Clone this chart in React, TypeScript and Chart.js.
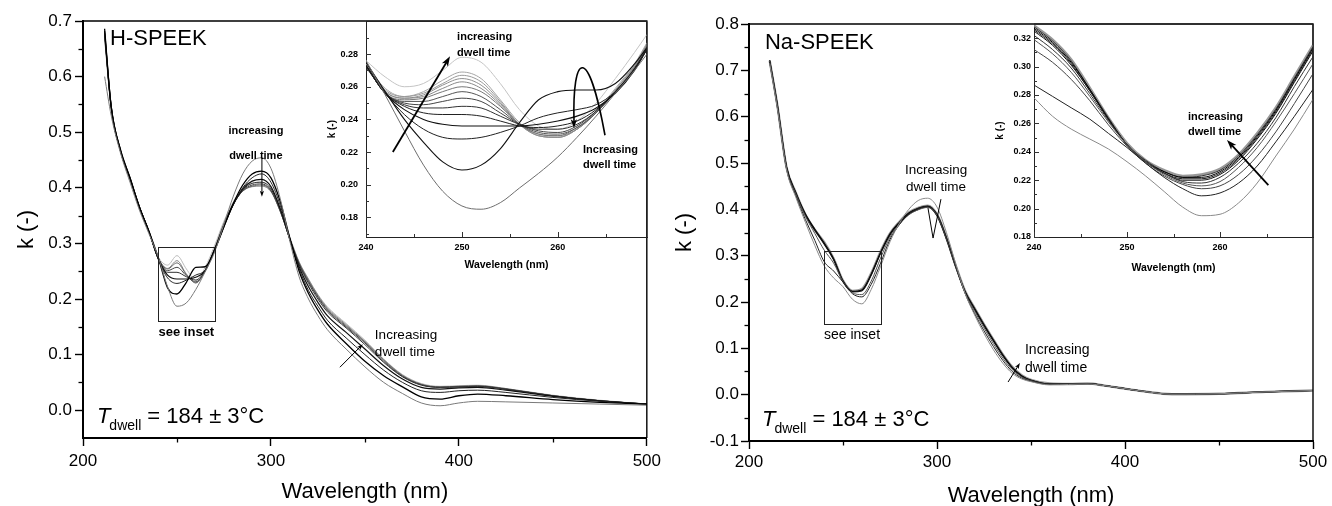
import React, { useEffect, useRef } from 'react';
import { Chart, registerables } from 'chart.js';

Chart.register(...registerables);

const FONT = '"Liberation Sans", Arial, Helvetica, sans-serif';

// ================= DATA =================
// ---- H-SPEEK main plot ----
const hMainWave = [211.5, 215, 220, 225, 230, 235, 240, 245, 250, 255, 260, 265, 270, 275, 280, 285, 290, 295, 300, 305, 310, 315, 320, 325, 330, 340, 350, 360, 370, 380, 390, 400, 410, 425, 450, 475, 500];
const hMainA = [0.600, 0.530, 0.462, 0.410, 0.360, 0.318, 0.276, 0.222, 0.187, 0.193, 0.217, 0.249, 0.284, 0.335, 0.385, 0.425, 0.448, 0.454, 0.435, 0.380, 0.305, 0.240, 0.200, 0.170, 0.145, 0.110, 0.078, 0.050, 0.030, 0.013, 0.008, 0.013, 0.016, 0.015, 0.013, 0.011, 0.009];
const hMainB = [0.686, 0.545, 0.468, 0.418, 0.365, 0.323, 0.275, 0.220, 0.209, 0.230, 0.257, 0.258, 0.288, 0.330, 0.372, 0.405, 0.425, 0.430, 0.418, 0.375, 0.310, 0.250, 0.210, 0.180, 0.155, 0.120, 0.088, 0.062, 0.042, 0.024, 0.020, 0.026, 0.029, 0.026, 0.019, 0.014, 0.011];
const hMainC = [0.680, 0.548, 0.466, 0.417, 0.366, 0.322, 0.272, 0.238, 0.228, 0.234, 0.243, 0.252, 0.287, 0.330, 0.370, 0.400, 0.418, 0.425, 0.410, 0.368, 0.310, 0.255, 0.215, 0.187, 0.162, 0.130, 0.100, 0.072, 0.050, 0.035, 0.032, 0.035, 0.036, 0.032, 0.023, 0.016, 0.011];
const hMainD = [0.682, 0.547, 0.467, 0.418, 0.366, 0.322, 0.273, 0.243, 0.236, 0.236, 0.239, 0.251, 0.288, 0.332, 0.370, 0.398, 0.412, 0.415, 0.402, 0.362, 0.308, 0.258, 0.222, 0.194, 0.170, 0.140, 0.110, 0.080, 0.056, 0.041, 0.038, 0.040, 0.041, 0.036, 0.025, 0.017, 0.011];
const hMainF = [0.678, 0.546, 0.466, 0.417, 0.366, 0.322, 0.273, 0.248, 0.248, 0.240, 0.234, 0.251, 0.288, 0.333, 0.370, 0.396, 0.408, 0.410, 0.398, 0.360, 0.308, 0.262, 0.228, 0.200, 0.177, 0.148, 0.118, 0.086, 0.060, 0.045, 0.041, 0.042, 0.043, 0.038, 0.026, 0.017, 0.011];
const hMainH = [0.676, 0.545, 0.466, 0.416, 0.366, 0.322, 0.273, 0.251, 0.257, 0.242, 0.231, 0.250, 0.289, 0.334, 0.371, 0.395, 0.405, 0.407, 0.395, 0.358, 0.308, 0.263, 0.231, 0.203, 0.180, 0.150, 0.121, 0.088, 0.061, 0.046, 0.041, 0.042, 0.043, 0.038, 0.026, 0.017, 0.011];
const hMainK = [0.672, 0.544, 0.465, 0.416, 0.365, 0.322, 0.274, 0.254, 0.265, 0.244, 0.229, 0.251, 0.290, 0.335, 0.371, 0.394, 0.403, 0.405, 0.394, 0.357, 0.309, 0.265, 0.233, 0.205, 0.182, 0.152, 0.123, 0.090, 0.062, 0.046, 0.042, 0.043, 0.044, 0.038, 0.026, 0.017, 0.011];
const hMainM = [0.668, 0.543, 0.465, 0.416, 0.365, 0.321, 0.274, 0.255, 0.269, 0.245, 0.229, 0.252, 0.291, 0.336, 0.372, 0.394, 0.402, 0.403, 0.393, 0.357, 0.310, 0.266, 0.235, 0.207, 0.184, 0.154, 0.124, 0.091, 0.063, 0.047, 0.042, 0.043, 0.044, 0.039, 0.026, 0.017, 0.011];
const hMainTop = [0.674, 0.543, 0.465, 0.415, 0.364, 0.321, 0.276, 0.261, 0.278, 0.254, 0.234, 0.257, 0.296, 0.340, 0.375, 0.398, 0.408, 0.410, 0.398, 0.360, 0.312, 0.267, 0.236, 0.208, 0.186, 0.156, 0.126, 0.092, 0.064, 0.048, 0.043, 0.044, 0.045, 0.039, 0.027, 0.018, 0.011];

// ---- H-SPEEK inset ----
const hInsetWave = [240, 242, 244, 246, 248, 250, 252, 254, 256, 258, 260, 262, 264, 266, 268, 269.3];
const hInA = [0.276, 0.255, 0.233, 0.212, 0.196, 0.187, 0.185, 0.189, 0.198, 0.207, 0.217, 0.229, 0.242, 0.256, 0.270, 0.280];
const hInB = [0.275, 0.257, 0.240, 0.226, 0.214, 0.209, 0.212, 0.222, 0.238, 0.252, 0.257, 0.258, 0.258, 0.262, 0.274, 0.284];
const hInC = [0.272, 0.256, 0.243, 0.234, 0.229, 0.228, 0.229, 0.232, 0.236, 0.241, 0.244, 0.246, 0.249, 0.257, 0.271, 0.283];
const hInD = [0.273, 0.256, 0.246, 0.240, 0.237, 0.236, 0.236, 0.236, 0.236, 0.237, 0.239, 0.242, 0.247, 0.256, 0.270, 0.283];
const hInE = [0.273, 0.256, 0.248, 0.244, 0.243, 0.243, 0.242, 0.239, 0.236, 0.235, 0.236, 0.239, 0.246, 0.257, 0.271, 0.283];
const hInF = [0.273, 0.256, 0.249, 0.247, 0.247, 0.248, 0.247, 0.242, 0.237, 0.234, 0.234, 0.237, 0.245, 0.257, 0.271, 0.283];
const hInG = [0.273, 0.256, 0.250, 0.249, 0.251, 0.253, 0.251, 0.244, 0.237, 0.233, 0.232, 0.236, 0.245, 0.257, 0.271, 0.284];
const hInH = [0.273, 0.256, 0.251, 0.251, 0.254, 0.257, 0.254, 0.246, 0.237, 0.232, 0.231, 0.235, 0.244, 0.257, 0.271, 0.284];
const hInI = [0.273, 0.256, 0.252, 0.253, 0.257, 0.260, 0.257, 0.248, 0.237, 0.231, 0.230, 0.235, 0.244, 0.257, 0.272, 0.285];
const hInJ = [0.273, 0.257, 0.253, 0.254, 0.259, 0.263, 0.259, 0.249, 0.237, 0.231, 0.230, 0.234, 0.244, 0.257, 0.272, 0.285];
const hInK = [0.274, 0.257, 0.253, 0.255, 0.261, 0.265, 0.261, 0.250, 0.237, 0.230, 0.229, 0.234, 0.244, 0.258, 0.273, 0.286];
const hInL = [0.274, 0.258, 0.254, 0.256, 0.262, 0.267, 0.263, 0.251, 0.237, 0.230, 0.229, 0.234, 0.245, 0.258, 0.273, 0.286];
const hInM = [0.274, 0.259, 0.254, 0.257, 0.264, 0.269, 0.265, 0.252, 0.238, 0.230, 0.229, 0.234, 0.245, 0.259, 0.274, 0.287];
const hInTop = [0.276, 0.266, 0.260, 0.262, 0.270, 0.278, 0.275, 0.262, 0.246, 0.236, 0.234, 0.239, 0.250, 0.265, 0.281, 0.292];

// ---- Na-SPEEK main plot ----
const naMainWave = [211, 215, 220, 225, 230, 235, 240, 245, 250, 255, 260, 265, 270, 275, 280, 285, 290, 295, 300, 305, 310, 315, 320, 325, 330, 335, 340, 345, 350, 360, 370, 380, 390, 400, 410, 425, 450, 475, 500];
const naMainG1 = [0.715, 0.620, 0.485, 0.425, 0.372, 0.322, 0.278, 0.252, 0.233, 0.206, 0.196, 0.227, 0.277, 0.330, 0.370, 0.400, 0.419, 0.424, 0.405, 0.350, 0.282, 0.218, 0.172, 0.132, 0.097, 0.068, 0.046, 0.034, 0.028, 0.021, 0.022, 0.023, 0.019, 0.013, 0.007, 0.001, 0.002, 0.006, 0.009];
const naMainG2 = [0.718, 0.622, 0.487, 0.428, 0.378, 0.333, 0.287, 0.267, 0.243, 0.218, 0.211, 0.238, 0.284, 0.335, 0.367, 0.390, 0.402, 0.406, 0.390, 0.340, 0.278, 0.218, 0.175, 0.138, 0.104, 0.074, 0.050, 0.036, 0.029, 0.022, 0.023, 0.024, 0.019, 0.013, 0.007, 0.001, 0.002, 0.006, 0.009];
const naMainG3 = [0.720, 0.625, 0.488, 0.432, 0.385, 0.348, 0.312, 0.284, 0.244, 0.220, 0.216, 0.245, 0.295, 0.340, 0.368, 0.388, 0.399, 0.404, 0.387, 0.337, 0.276, 0.219, 0.180, 0.144, 0.110, 0.079, 0.054, 0.038, 0.030, 0.022, 0.023, 0.024, 0.019, 0.013, 0.007, 0.001, 0.002, 0.006, 0.009];
const naMainB1 = [0.720, 0.626, 0.490, 0.434, 0.388, 0.355, 0.325, 0.292, 0.245, 0.222, 0.224, 0.258, 0.305, 0.345, 0.370, 0.390, 0.400, 0.405, 0.386, 0.336, 0.275, 0.221, 0.184, 0.149, 0.116, 0.084, 0.058, 0.040, 0.031, 0.023, 0.023, 0.024, 0.019, 0.013, 0.007, 0.001, 0.002, 0.006, 0.009];
const naMainB3 = [0.722, 0.628, 0.491, 0.435, 0.390, 0.357, 0.327, 0.293, 0.245, 0.223, 0.226, 0.260, 0.307, 0.347, 0.372, 0.392, 0.402, 0.407, 0.388, 0.338, 0.277, 0.222, 0.186, 0.151, 0.118, 0.086, 0.059, 0.041, 0.031, 0.023, 0.023, 0.024, 0.019, 0.013, 0.007, 0.001, 0.002, 0.006, 0.009];
const naMainB5 = [0.721, 0.627, 0.490, 0.435, 0.389, 0.356, 0.329, 0.294, 0.246, 0.224, 0.228, 0.262, 0.309, 0.348, 0.373, 0.393, 0.403, 0.408, 0.389, 0.339, 0.278, 0.223, 0.187, 0.152, 0.119, 0.087, 0.060, 0.042, 0.032, 0.024, 0.023, 0.024, 0.019, 0.013, 0.007, 0.001, 0.002, 0.006, 0.009];

// ---- Na-SPEEK inset ----
const naInsetWave = [240, 242, 244, 246, 248, 250, 252, 254, 256, 258, 260, 262, 264, 266, 268, 270];
const naInG1 = [0.278, 0.265, 0.256, 0.249, 0.242, 0.233, 0.223, 0.212, 0.201, 0.195, 0.196, 0.204, 0.218, 0.237, 0.256, 0.277];
const naInG2 = [0.287, 0.279, 0.271, 0.263, 0.253, 0.243, 0.232, 0.222, 0.214, 0.209, 0.211, 0.218, 0.230, 0.247, 0.265, 0.284];
const naInG3 = [0.312, 0.303, 0.291, 0.276, 0.259, 0.244, 0.232, 0.223, 0.217, 0.214, 0.216, 0.224, 0.237, 0.254, 0.274, 0.295];
const naInG4 = [0.319, 0.309, 0.296, 0.279, 0.261, 0.245, 0.233, 0.224, 0.218, 0.216, 0.219, 0.229, 0.243, 0.261, 0.281, 0.302];
const naInG5 = [0.322, 0.312, 0.299, 0.281, 0.262, 0.245, 0.233, 0.225, 0.219, 0.218, 0.222, 0.232, 0.246, 0.264, 0.286, 0.307];
const naInB1 = [0.325, 0.315, 0.301, 0.283, 0.263, 0.245, 0.233, 0.225, 0.220, 0.220, 0.224, 0.234, 0.249, 0.267, 0.289, 0.311];
const naInB2 = [0.326, 0.316, 0.302, 0.283, 0.263, 0.245, 0.233, 0.225, 0.221, 0.221, 0.225, 0.235, 0.250, 0.268, 0.290, 0.312];
const naInB3 = [0.327, 0.317, 0.303, 0.284, 0.263, 0.245, 0.233, 0.226, 0.222, 0.222, 0.226, 0.236, 0.251, 0.269, 0.291, 0.313];
const naInB4 = [0.328, 0.318, 0.304, 0.284, 0.264, 0.245, 0.234, 0.226, 0.222, 0.223, 0.227, 0.237, 0.252, 0.270, 0.292, 0.314];
const naInB5 = [0.329, 0.319, 0.305, 0.285, 0.264, 0.246, 0.234, 0.227, 0.223, 0.224, 0.228, 0.238, 0.253, 0.271, 0.293, 0.315];

// ---- tick values ----
const mainXTicks = [200, 300, 400, 500];
const mainXMinor = [250, 350, 450];
const hMainYTicks = [0, 0.1, 0.2, 0.3, 0.4, 0.5, 0.6, 0.7];
const hMainYMinor = [0.05, 0.15, 0.25, 0.35, 0.45, 0.55, 0.65];
const naMainYTicks = [-0.1, 0, 0.1, 0.2, 0.3, 0.4, 0.5, 0.6, 0.7, 0.8];
const naMainYMinor = [-0.05, 0.05, 0.15, 0.25, 0.35, 0.45, 0.55, 0.65, 0.75];
const insetXTicks = [240, 250, 260];
const insetXMinor = [245, 255, 265];
const hInsetYTicks = [0.18, 0.2, 0.22, 0.24, 0.26, 0.28];
const hInsetYMinor = [0.17, 0.19, 0.21, 0.23, 0.25, 0.27, 0.29];
const naInsetYTicks = [0.18, 0.2, 0.22, 0.24, 0.26, 0.28, 0.3, 0.32];
const naInsetYMinor = [0.19, 0.21, 0.23, 0.25, 0.27, 0.29, 0.31];

// ================= STYLES / NOTES =================
type Style = { color: string; width: number };
const hMainSeries = [hMainA, hMainB, hMainC, hMainD, hMainF, hMainH, hMainK, hMainM, hMainTop];
const hMainStyles: Style[] = [
  { color: '#7a7a7a', width: 1 }, { color: '#000', width: 1.3 }, { color: '#222', width: 1 },
  { color: '#111', width: 1.2 }, { color: '#333', width: 1 }, { color: '#444', width: 1 },
  { color: '#666', width: 1 }, { color: '#888', width: 1 }, { color: '#bbb', width: 1 },
];
const hInsetSeries = [hInA, hInB, hInC, hInD, hInE, hInF, hInG, hInH, hInI, hInJ, hInK, hInL, hInM, hInTop];
const hInsetStyles: Style[] = [
  { color: '#6e6e6e', width: 1 }, { color: '#111', width: 1.1 }, { color: '#222', width: 1 },
  { color: '#111', width: 1.1 }, { color: '#222', width: 1 }, { color: '#333', width: 1 },
  { color: '#444', width: 1 }, { color: '#555', width: 1 }, { color: '#777', width: 1 },
  { color: '#888', width: 1 }, { color: '#8e8e8e', width: 1 }, { color: '#999', width: 1 },
  { color: '#a5a5a5', width: 1 }, { color: '#c4c4c4', width: 1 },
];
const naMainSeries = [naMainG1, naMainG2, naMainG3, naMainB1, naMainB3, naMainB5];
const naMainStyles: Style[] = [
  { color: '#8a8a8a', width: 1 }, { color: '#222', width: 1 }, { color: '#555', width: 1 },
  { color: '#111', width: 1.2 }, { color: '#000', width: 1.2 }, { color: '#999', width: 2.4 },
];
const naInsetSeries = [naInG1, naInG2, naInG3, naInG4, naInG5, naInB1, naInB2, naInB3, naInB4, naInB5];
const naInsetStyles: Style[] = [
  { color: '#8a8a8a', width: 1 }, { color: '#222', width: 1 }, { color: '#444', width: 1 },
  { color: '#555', width: 1 }, { color: '#333', width: 1 }, { color: '#111', width: 1 },
  { color: '#222', width: 1 }, { color: '#000', width: 1 }, { color: '#333', width: 1 },
  { color: '#999', width: 2.6 },
];

const hMainNotes: any[] = [
  { kind: 'text', x: 214.4, y: 0.668, lines: ['H-SPEEK'], size: 22, align: 'left' },
  { kind: 'text', x: 292.0, y: 0.502, lines: ['increasing', 'dwell time'], size: 11, weight: 'bold', align: 'center', gap: 25 },
  { kind: 'arrow', pts: [[295.2, 0.452], [295.2, 0.384]], width: 1, head: 6 },
  { kind: 'rect', x0: 240, x1: 270, y0: 0.16, y1: 0.293 },
  { kind: 'text', x: 255, y: 0.139, lines: ['see inset'], size: 13, weight: 'bold', align: 'center' },
  { kind: 'tdwell', x: 207.4, y: -0.012 },
  { kind: 'text', x: 355.3, y: 0.135, lines: ['Increasing', 'dwell time'], size: 13.5, align: 'left', gap: 17 },
  { kind: 'arrow', pts: [[336.7, 0.0773], [348.9, 0.1187]], width: 1, head: 6 },
];
const hInsetNotes: any[] = [
  { kind: 'text', x: 249.5, y: 0.2903, lines: ['increasing', 'dwell time'], size: 11, weight: 'bold', align: 'left', gap: 16 },
  { kind: 'arrow', pts: [[242.8, 0.22], [248.76, 0.2786]], width: 1.8, head: 10 },
  { kind: 'curve', pts: [[264.92, 0.2303], [263.15, 0.2872], [261.48, 0.2811], [261.69, 0.2346]], width: 1.6, head: 9 },
  { kind: 'text', x: 262.63, y: 0.2212, lines: ['Increasing', 'dwell time'], size: 11, weight: 'bold', align: 'left', gap: 15 },
];
const naMainNotes: any[] = [
  { kind: 'text', x: 208.5, y: 0.759, lines: ['Na-SPEEK'], size: 22, align: 'left' },
  { kind: 'text', x: 299.5, y: 0.485, lines: ['Increasing', 'dwell time'], size: 13.5, align: 'center', gap: 17 },
  { kind: 'poly', pts: [[295.2, 0.403], [297.9, 0.338], [302.1, 0.422]], width: 1 },
  { kind: 'rect', x0: 240, x1: 270, y0: 0.153, y1: 0.31 },
  { kind: 'text', x: 254.8, y: 0.129, lines: ['see inset'], size: 14, align: 'center' },
  { kind: 'tdwell', x: 206.9, y: -0.0547 },
  { kind: 'text', x: 346.8, y: 0.0964, lines: ['Increasing', 'dwell time'], size: 14, align: 'left', gap: 18 },
  { kind: 'arrow', pts: [[337.8, 0.0273], [344.1, 0.0683]], width: 1, head: 6 },
];
const naInsetNotes: any[] = [
  { kind: 'text', x: 256.56, y: 0.2645, lines: ['increasing', 'dwell time'], size: 11, weight: 'bold', align: 'left', gap: 15 },
  { kind: 'arrow', pts: [[265.2, 0.2166], [260.75, 0.2483]], width: 1.8, head: 10 },
];

const panels: any[] = [
  {
    left: 0, top: 0, w: 666, h: 506, inset: false,
    padding: { left: 0, top: 21, right: 19, bottom: 0 }, yWidth: 83, xHeight: 68,
    xMin: 200, xMax: 500, yMin: -0.05, yMax: 0.7, yDec: 1,
    xTicks: mainXTicks, xMinor: mainXMinor, yTicks: hMainYTicks, yMinor: hMainYMinor,
    wave: hMainWave, series: hMainSeries, styles: hMainStyles, notes: hMainNotes,
    tickSize: 17, tickWeight: 'normal', xTickPad: 5, yTickPad: 3,
    xTitleSize: 22, yTitleSize: 22, titleWeight: 'normal', xTitlePad: 1, yTitlePad: 14,
  },
  {
    left: 666, top: 0, w: 666, h: 510, inset: false,
    padding: { left: 0, top: 24, right: 19, bottom: 0 }, yWidth: 83, xHeight: 69,
    xMin: 200, xMax: 500, yMin: -0.1, yMax: 0.8, yDec: 1,
    xTicks: mainXTicks, xMinor: mainXMinor, yTicks: naMainYTicks, yMinor: naMainYMinor,
    wave: naMainWave, series: naMainSeries, styles: naMainStyles, notes: naMainNotes,
    tickSize: 17, tickWeight: 'normal', xTickPad: 3, yTickPad: 2,
    xTitleSize: 22, yTitleSize: 22, titleWeight: 'normal', xTitlePad: 1, yTitlePad: 6,
  },
  {
    left: 310, top: 8, w: 350, h: 270, inset: true,
    padding: { left: 0, top: 13, right: 13, bottom: 0 }, yWidth: 56, xHeight: 41,
    xMin: 240, xMax: 269.3, yMin: 0.168, yMax: 0.3, yDec: 2,
    xTicks: insetXTicks, xMinor: insetXMinor, yTicks: hInsetYTicks, yMinor: hInsetYMinor,
    wave: hInsetWave, series: hInsetSeries, styles: hInsetStyles, notes: hInsetNotes,
    tickSize: 9, tickWeight: 'bold', xTickPad: 5, yTickPad: 8,
    xTitleSize: 10.5, yTitleSize: 10, titleWeight: 'bold', xTitlePad: 6.7, yTitlePad: 16,
  },
  {
    left: 975, top: 8, w: 350, h: 270, inset: true,
    padding: { left: 0, top: 16, right: 12, bottom: 0 }, yWidth: 59, xHeight: 41,
    xMin: 240, xMax: 270, yMin: 0.18, yMax: 0.33, yDec: 2,
    xTicks: insetXTicks, xMinor: insetXMinor, yTicks: naInsetYTicks, yMinor: naInsetYMinor,
    wave: naInsetWave, series: naInsetSeries, styles: naInsetStyles, notes: naInsetNotes,
    tickSize: 9, tickWeight: 'bold', xTickPad: 5, yTickPad: 3,
    xTitleSize: 10.5, yTitleSize: 10, titleWeight: 'bold', xTitlePad: 3.7, yTitlePad: 19,
  },
];

// ================= DRAWING HELPERS =================
function arrowHead(ctx: CanvasRenderingContext2D, fx: number, fy: number, tx: number, ty: number, len: number) {
  const ang = Math.atan2(ty - fy, tx - fx);
  const wid = len * 0.7;
  const bx = tx - len * Math.cos(ang);
  const by = ty - len * Math.sin(ang);
  ctx.beginPath();
  ctx.moveTo(tx, ty);
  ctx.lineTo(bx + (wid / 2) * Math.sin(ang), by - (wid / 2) * Math.cos(ang));
  ctx.lineTo(bx + len * 0.25 * Math.cos(ang), by + len * 0.25 * Math.sin(ang));
  ctx.lineTo(bx - (wid / 2) * Math.sin(ang), by + (wid / 2) * Math.cos(ang));
  ctx.closePath();
  ctx.fill();
}

function decorFor(p: any) {
  return {
    id: 'decor',
    afterDraw(chart: any) {
      const ctx: CanvasRenderingContext2D = chart.ctx;
      const a = chart.chartArea;
      const xs = chart.scales.x;
      const ys = chart.scales.y;
      const X = (v: number) => xs.getPixelForValue(v);
      const Y = (v: number) => ys.getPixelForValue(v);
      ctx.save();
      // top / right frame
      ctx.strokeStyle = p.inset ? '#222' : '#000';
      ctx.lineWidth = p.inset ? 1 : 1.4;
      ctx.beginPath();
      ctx.moveTo(a.left, a.top);
      ctx.lineTo(a.right, a.top);
      ctx.lineTo(a.right, a.bottom);
      ctx.stroke();
      // ticks
      ctx.lineWidth = 1;
      ctx.strokeStyle = p.inset ? '#333' : '#000';
      const dir = p.inset ? -1 : 1;
      const xt = (vals: number[], len: number) => {
        vals.forEach((v) => {
          const px = Math.round(X(v)) + 0.5;
          ctx.beginPath(); ctx.moveTo(px, a.bottom); ctx.lineTo(px, a.bottom + dir * len); ctx.stroke();
        });
      };
      const yt = (vals: number[], len: number) => {
        vals.forEach((v) => {
          const py = Math.round(Y(v)) + 0.5;
          ctx.beginPath(); ctx.moveTo(a.left, py); ctx.lineTo(a.left - dir * len, py); ctx.stroke();
        });
      };
      if (p.inset) {
        xt(p.xTicks, 5); yt(p.yTicks, 5);
        xt(p.xMinor, 3); yt(p.yMinor, 3);
      } else {
        ctx.lineWidth = 1.3;
        xt(p.xMinor, 4.5); yt(p.yMinor, 4.5);
      }
      // annotations
      ctx.fillStyle = '#000';
      ctx.strokeStyle = '#000';
      p.notes.forEach((n: any) => {
        if (n.kind === 'text') {
          ctx.font = `${n.weight || 'normal'} ${n.size}px ${FONT}`;
          ctx.textAlign = n.align;
          ctx.textBaseline = 'middle';
          const px = X(n.x), py = Y(n.y);
          n.lines.forEach((l: string, i: number) => ctx.fillText(l, px, py + i * (n.gap || 0)));
        } else if (n.kind === 'arrow' || n.kind === 'poly') {
          const pts = n.pts.map((q: number[]) => [X(q[0]), Y(q[1])]);
          ctx.lineWidth = n.width;
          ctx.beginPath();
          ctx.moveTo(pts[0][0], pts[0][1]);
          for (let i = 1; i < pts.length; i++) {
            let [tx, ty] = pts[i];
            if (n.kind === 'arrow' && i === pts.length - 1) {
              const ang = Math.atan2(ty - pts[i - 1][1], tx - pts[i - 1][0]);
              tx -= n.head * 0.6 * Math.cos(ang); ty -= n.head * 0.6 * Math.sin(ang);
            }
            ctx.lineTo(tx, ty);
          }
          ctx.stroke();
          if (n.kind === 'arrow') {
            const l = pts.length;
            arrowHead(ctx, pts[l - 2][0], pts[l - 2][1], pts[l - 1][0], pts[l - 1][1], n.head);
          }
        } else if (n.kind === 'curve') {
          const pts = n.pts.map((q: number[]) => [X(q[0]), Y(q[1])]);
          ctx.lineWidth = n.width;
          ctx.beginPath();
          ctx.moveTo(pts[0][0], pts[0][1]);
          ctx.bezierCurveTo(pts[1][0], pts[1][1], pts[2][0], pts[2][1], pts[3][0], pts[3][1] - n.head * 0.6);
          ctx.stroke();
          arrowHead(ctx, pts[2][0], pts[2][1], pts[3][0], pts[3][1], n.head);
        } else if (n.kind === 'rect') {
          ctx.lineWidth = 1;
          ctx.strokeStyle = '#222';
          const x0 = Math.round(X(n.x0)) + 0.5, x1 = Math.round(X(n.x1)) + 0.5;
          const y0 = Math.round(Y(n.y0)) + 0.5, y1 = Math.round(Y(n.y1)) + 0.5;
          ctx.strokeRect(x0, y1, x1 - x0, y0 - y1);
          ctx.strokeStyle = '#000';
        } else if (n.kind === 'tdwell') {
          const px = X(n.x), py = Y(n.y);
          ctx.textAlign = 'left';
          ctx.textBaseline = 'middle';
          ctx.font = `italic 22px ${FONT}`;
          ctx.fillText('T', px, py);
          let w = ctx.measureText('T').width - 1;
          ctx.font = `14px ${FONT}`;
          ctx.fillText('dwell', px + w, py + 9);
          w += ctx.measureText('dwell').width;
          ctx.font = `22px ${FONT}`;
          ctx.fillText(' = 184 ± 3°C', px + w, py);
        }
      });
      ctx.restore();
    },
  };
}

function makeConfig(p: any): any {
  const datasets = p.series.map((vals: number[], i: number) => ({
    data: p.wave.map((x: number, j: number) => ({ x, y: vals[j] })),
    borderColor: p.styles[i].color,
    borderWidth: p.styles[i].width,
    pointRadius: 0,
    fill: false,
    cubicInterpolationMode: 'monotone',
    borderJoinStyle: 'round',
  }));
  const tickFont = { family: FONT, size: p.tickSize, weight: p.tickWeight };
  const borderCfg = { display: true, color: p.inset ? '#222' : '#000', width: p.inset ? 1 : 2 };
  const gridCfg = p.inset
    ? { display: false, drawTicks: false }
    : { display: true, drawOnChartArea: false, drawTicks: true, tickLength: 8, tickWidth: 1.4, tickColor: '#000', color: '#000' };
  return {
    type: 'line',
    data: { datasets },
    options: {
      animation: false,
      responsive: false,
      maintainAspectRatio: false,
      events: [],
      layout: { padding: p.padding },
      plugins: { legend: { display: false }, tooltip: { enabled: false }, title: { display: false } },
      scales: {
        x: {
          type: 'linear', min: p.xMin, max: p.xMax,
          afterBuildTicks: (s: any) => { s.ticks = p.xTicks.map((v: number) => ({ value: v })); },
          afterFit: (s: any) => { s.height = p.xHeight; },
          grid: gridCfg, border: borderCfg,
          ticks: { font: tickFont, color: '#000', padding: p.xTickPad, autoSkip: false, maxRotation: 0, callback: (v: number) => String(Math.round(v)) },
          title: { display: true, text: 'Wavelength (nm)', color: '#000', font: { family: FONT, size: p.xTitleSize, weight: p.titleWeight }, padding: { top: 0, bottom: p.xTitlePad } },
        },
        y: {
          type: 'linear', min: p.yMin, max: p.yMax,
          afterBuildTicks: (s: any) => { s.ticks = p.yTicks.map((v: number) => ({ value: v })); },
          afterFit: (s: any) => { s.width = p.yWidth; },
          grid: gridCfg, border: borderCfg,
          ticks: { font: tickFont, color: '#000', padding: p.yTickPad, autoSkip: false, callback: (v: number) => Number(v).toFixed(p.yDec) },
          title: { display: true, text: 'k (-)', color: '#000', font: { family: FONT, size: p.yTitleSize, weight: p.titleWeight }, padding: { top: p.yTitlePad, bottom: 0 } },
        },
      },
    },
    plugins: [decorFor(p)],
  };
}

export default function App() {
  const canvases = useRef<(HTMLCanvasElement | null)[]>([]);
  useEffect(() => {
    const charts = panels.map((p, i) => new Chart(canvases.current[i] as HTMLCanvasElement, makeConfig(p)));
    return () => charts.forEach((c) => c.destroy());
  }, []);
  return (
    <div style={{ position: 'absolute', left: 0, top: 0, width: 1332, height: 506, overflow: 'hidden', background: '#fff' }}>
      {panels.map((p, i) => (
        <canvas
          key={i}
          ref={(el) => { canvases.current[i] = el; }}
          width={p.w}
          height={p.h}
          style={{ position: 'absolute', left: p.left, top: p.top, width: p.w, height: p.h }}
        />
      ))}
    </div>
  );
}
